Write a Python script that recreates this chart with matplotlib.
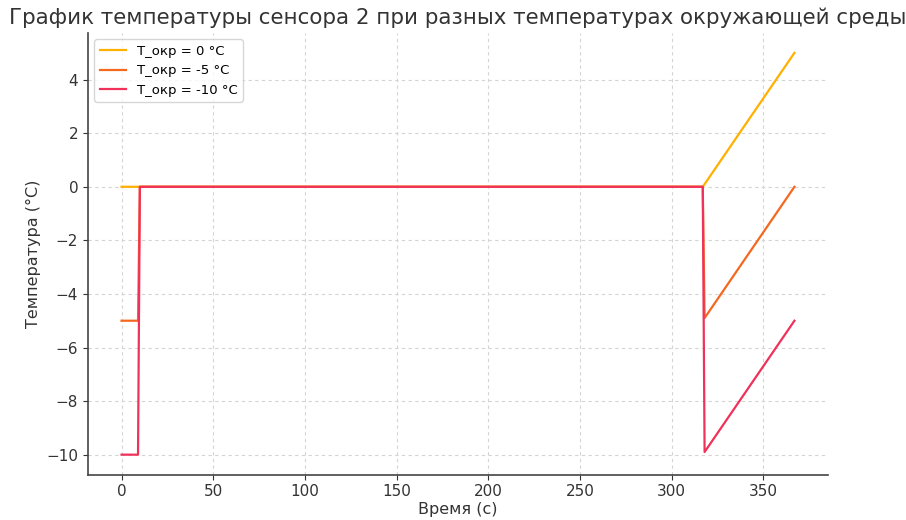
import matplotlib.pyplot as plt

# breakpoints of the sensor 2 temperature curves (time in s, temperature in °C)
t = [0, 9, 10, 317, 318, 367]
temp_0 = [0, 0, 0, 0, 0.1, 5.0]
temp_m5 = [-5, -5, 0, 0, -4.9, 0.0]
temp_m10 = [-10, -10, 0, 0, -9.9, -5.0]

labels = ["T_окр = 0 °C", "T_окр = -5 °C", "T_окр = -10 °C"]
colors = ["#ffb000", "#f4681f", "#f0325a"]

fig = plt.figure(figsize=(9.06, 5.2), dpi=100)
ax = fig.add_axes([0.097, 0.087, 0.817, 0.85])

for vals, lab, col in zip([temp_0, temp_m5, temp_m10], labels, colors):
    ax.plot(t, vals, color=col, linewidth=1.6, label=lab)

ax.set_title("График температуры сенсора 2 при разных температурах окружающей среды",
             fontsize=15.4, color="#333333")
ax.set_xlabel("Время (с)", fontsize=11.5, color="#333333", labelpad=2)
ax.set_ylabel("Температура (°C)", fontsize=11.5, color="#333333")
ax.tick_params(labelsize=11, colors="#333333")
ax.set_xticks([0, 50, 100, 150, 200, 250, 300, 350])

ax.grid(True, linestyle=(0, (3, 3)), color="#d4d4d4", linewidth=0.8)
ax.spines["top"].set_visible(False)
ax.spines["right"].set_visible(False)
for s in ["left", "bottom"]:
    ax.spines[s].set_color("#444444")
    ax.spines[s].set_linewidth(1.2)

ax.legend(loc="upper left", fontsize=9.5)

plt.savefig("out.png")
